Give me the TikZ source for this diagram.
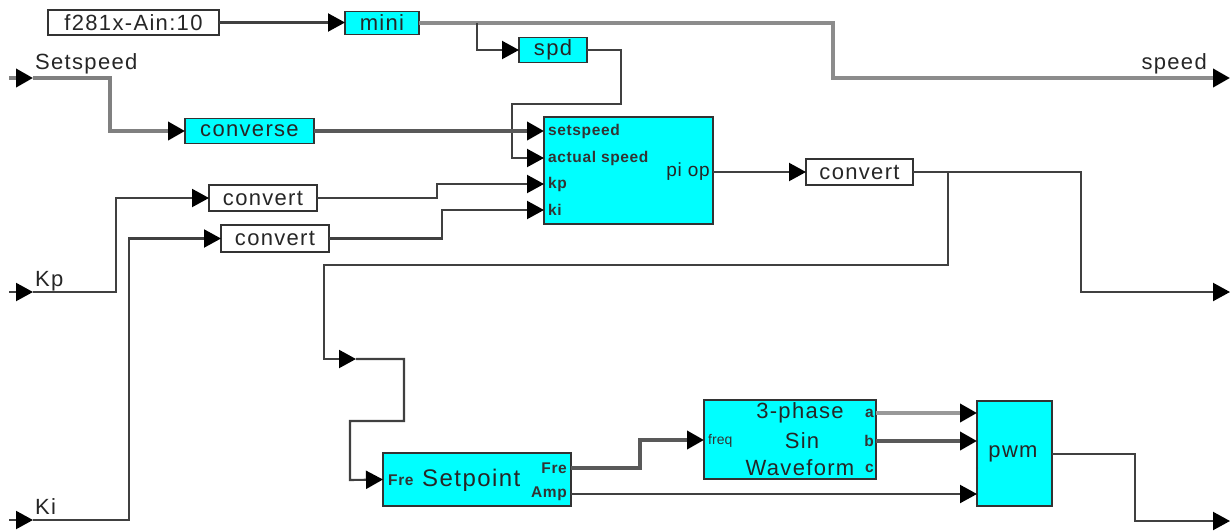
\documentclass[tikz,border=0pt]{standalone}
\usepackage{fontspec}
\setmainfont{Liberation Sans}
\usetikzlibrary{arrows.meta}
\definecolor{cyanbox}{HTML}{00FFFF}
\newcommand\bigf{\fontsize{22}{22}\selectfont\addfontfeature{LetterSpace=6}}
\newcommand\midf{\fontsize{19}{19}\selectfont\addfontfeature{LetterSpace=4}}
\newcommand\smf{\fontsize{15.5}{15.5}\selectfont\bfseries\addfontfeature{LetterSpace=4}}
\begin{document}
\begin{tikzpicture}[x=1pt,y=-1pt,
  box/.style={draw=black!80, line width=1.8pt, inner sep=0pt, outer sep=0pt},
  cy/.style={box, fill=cyanbox},
  wh/.style={box, fill=white},
  wire/.style={draw=black!75, line width=2.1pt},
  bus/.style={draw=black!65, line width=3.8pt},
  tip/.style={-{Triangle[length=17pt,width=18pt,color=black]}},
  lbl/.style={inner sep=0pt, font=\bigf, text=black!85},
  sm/.style={inner sep=0pt, font=\smf, text=black!80},
  md/.style={inner sep=0pt, font=\midf, text=black!85},
]
\useasboundingbox (0,0) rectangle (1230,531);

% ---------- boxes ----------
\node[wh, minimum width=171pt, minimum height=25pt] (ain) at (133.5,22.5) {};
\node[lbl] (aint) at (ain.center) {f281x-Ain:10};
\node[cy, minimum width=74pt, minimum height=23pt] (mini) at (382,23) {};
\node[lbl] (minit) at (mini.center) {mini};
\node[cy, minimum width=68pt, minimum height=25pt] (spd) at (553,50) {};
\node[lbl] (spdt) at (spd.center) {spd};
\node[cy, minimum width=129pt, minimum height=25pt] (conv) at (249.5,131) {};
\node[lbl] (convt) at (conv.center) {converse};
\node[cy, minimum width=169pt, minimum height=107pt] (pi) at (628.5,170.5) {};
\node[wh, minimum width=107pt, minimum height=26pt] (c0) at (859.5,172) {};
\node[lbl] (c0t) at (c0.center) {convert};
\node[wh, minimum width=108pt, minimum height=26pt] (c1) at (263,198) {};
\node[lbl] (c1t) at (c1.center) {convert};
\node[wh, minimum width=108pt, minimum height=27pt] (c2) at (275,238.5) {};
\node[lbl] (c2t) at (c2.center) {convert};
\node[cy, minimum width=188pt, minimum height=53pt] (sp) at (477,479.5) {};
\node[cy, minimum width=172pt, minimum height=79pt] (tp) at (790,439.5) {};
\node[cy, minimum width=75pt, minimum height=105pt] (pwm) at (1014.5,453.5) {};
\node[lbl] (pwmt) at (1013,454) {pwm};

% ---------- texts inside blocks ----------
\node[sm, anchor=west] (pis) at (548,131) {setspeed};
\node[sm, anchor=west] (pia) at (548,158) {actual speed};
\node[sm, anchor=west] (pik) at (548,184) {kp};
\node[sm, anchor=west] (pii) at (548,210) {ki};
\node[md, anchor=east] (pio) at (710,172) {pi op};

\node[sm, anchor=west] (spf) at (388,480) {Fre};
\node[lbl, anchor=west, font=\fontsize{24}{24}\selectfont\addfontfeature{LetterSpace=6}] (spt) at (422,480) {Setpoint};
\node[sm, anchor=east] (spfo) at (567,468) {Fre};
\node[sm, anchor=east] (spa) at (567,494) {Amp};

\node[lbl] (tp1) at (800,413) {3-phase};
\node[lbl] (tp2) at (802,441) {Sin};
\node[lbl] (tp3) at (800,468) {Waveform};
\node[sm, anchor=west, font=\fontsize{14}{14}\selectfont] (tpf) at (708,441) {freq};
\node[sm, anchor=east] (tpa) at (874,413) {a};
\node[sm, anchor=east] (tpb) at (874,441) {b};
\node[sm, anchor=east] (tpc) at (874,468) {c};

% ---------- port labels ----------
\node[lbl, anchor=west] (lss) at (35,64) {Setspeed};
\node[lbl, anchor=east] (lsp) at (1207,64) {speed};
\node[lbl, anchor=west] (lkp) at (35,281) {Kp};
\node[lbl, anchor=west] (lki) at (35,507) {Ki};

% ---------- coordinates ----------
\coordinate (ss0) at (9,78);
\coordinate (ss1) at (33,78);
\coordinate (kp0) at (9,292);
\coordinate (kp1) at (33,292);
\coordinate (ki0) at (9,520);
\coordinate (ki1) at (33,520);
\coordinate (spdout) at (1230,78);
\coordinate (out2) at (1230,292);
\coordinate (out3) at (1230,521);
\coordinate (mid) at (356,359);
\coordinate (pwmc) at (977,468);

% ---------- wires ----------
\draw[wire, tip] (ain.east) -- (ain.east -| mini.west);
\draw[bus, draw=black!45] (mini.east |- 0,23) -- (833,23) -- (833,78) -- (1214,78);
\draw[bus, draw=black!45, tip] (1200,78) -- (spdout);
\draw[wire, tip] (477,23) -- (477,50) -- (spd.west);
\draw[wire, tip] (spd.east) -- (621,50) -- (621,104) -- (512,104) -- (512,158) -- (pi.west |- 0,158);

\draw[bus, draw=black!50] (ss0) -- (20,78);
\draw[bus, draw=black!50, tip] (14,78) -- (ss1);
\draw[bus, draw=black!50, tip] (ss1) -- (110,78) -- (110,131) -- (conv.west);
\draw[bus, tip] (conv.east) -- (pi.west |- conv.east);

\draw[wire, tip] (kp0) -- (kp1);
\draw[wire, tip] (kp1) -- (116,292) -- (116,198) -- (c1.west);
\draw[wire, tip] (ki0) -- (ki1);
\draw[wire, tip] (ki1) -- (129,520) -- (129,238.5) -- (c2.west);

\draw[wire, tip] (c1.east) -- (437,198) -- (437,184) -- (pi.west |- 0,184);
\draw[wire, tip] (c2.east) -- (442,238.5) -- (442,210) -- (pi.west |- 0,210);

\draw[wire, tip] (pi.east |- c0.west) -- (c0.west);
\draw[wire, tip] (c0.east) -- (1081,172) -- (1081,292) -- (out2);
\draw[wire, tip] (948,172) -- (948,265) -- (324,265) -- (324,359) -- (mid);
\draw[wire, tip] (mid) -- (404,359) -- (404,421) -- (350,421) -- (350,480) -- (sp.west);

\draw[bus, tip] (sp.east |- 0,468) -- (640,468) -- (640,440) -- (tp.west |- 0,440);
\draw[bus, draw=black!40, tip] (tp.east |- 0,413) -- (pwm.west |- 0,413);
\draw[bus, tip] (tp.east |- 0,441) -- (pwm.west |- 0,441);
\draw[wire, tip] (sp.east |- 0,494) -- (pwm.west |- 0,494);
\draw[wire, tip] (pwm.east |- 0,454) -- (1135,454) -- (1135,521) -- (out3);
\fill[black!80] (pwmc) circle (1.2pt);
\end{tikzpicture}
\end{document}
